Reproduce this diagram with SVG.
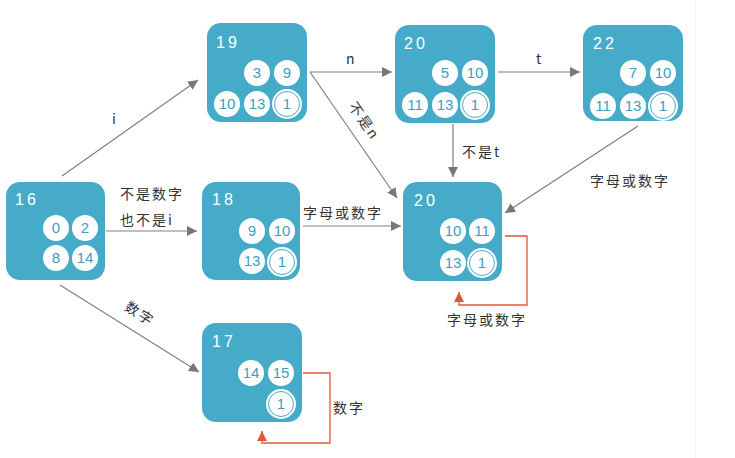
<svg xmlns="http://www.w3.org/2000/svg" width="735" height="458" viewBox="0 0 735 458">
<defs>
<style>
.box{fill:#46abc8}
.c{fill:#fff}
.ring{fill:none;stroke:#46abc8;stroke-width:1}
.t{font-family:"Liberation Sans","DejaVu Sans",sans-serif;font-size:16px;fill:#fff;letter-spacing:3px}
.n{font-family:"Liberation Sans","DejaVu Sans",sans-serif;font-size:15px;fill:#3a9fc2;text-anchor:middle}
.e{stroke:#808080;stroke-width:1.2;fill:none}
.r{stroke:#e0583a;stroke-width:1.3;fill:none}
.l{font-family:"Noto Sans CJK SC","DejaVu Sans",sans-serif;font-size:14px;fill:#333;letter-spacing:2px}
</style>
<marker id="ag" viewBox="0 0 10 10" refX="10" refY="5" markerWidth="10" markerHeight="10" markerUnits="userSpaceOnUse" orient="auto"><path d="M0,0 L10,5 L0,10 Z" fill="#777"/></marker>
<marker id="ar" viewBox="0 0 10 10" refX="10" refY="5" markerWidth="10" markerHeight="10" markerUnits="userSpaceOnUse" orient="auto"><path d="M0,0 L10,5 L0,10 Z" fill="#e0583a"/></marker>
</defs>
<rect width="735" height="458" fill="#fff"/>
<line x1="695.5" y1="0" x2="695.5" y2="458" stroke="#f4f4f4" stroke-width="1"/>

<g id="connectors">
<line class="e" x1="62" y1="176" x2="198" y2="80" marker-end="url(#ag)"/>
<text class="l" x="112" y="124">i</text>
<line class="e" x1="106" y1="231" x2="197" y2="231" marker-end="url(#ag)"/>
<text class="l" x="120" y="199">不是数字</text>
<text class="l" x="120" y="225">也不是i</text>
<line class="e" x1="60" y1="285" x2="199" y2="372" marker-end="url(#ag)"/>
<text class="l" transform="translate(137,318) rotate(33)" text-anchor="middle">数字</text>
<line class="e" x1="310" y1="72" x2="392" y2="72" marker-end="url(#ag)"/>
<text class="l" x="346" y="64">n</text>
<line class="e" x1="310" y1="72" x2="397" y2="198" marker-end="url(#ag)"/>
<text class="l" transform="translate(360,124) rotate(55)" text-anchor="middle">不是n</text>
<line class="e" x1="498" y1="72" x2="580" y2="72" marker-end="url(#ag)"/>
<text class="l" x="536" y="64">t</text>
<line class="e" x1="453" y1="124" x2="453" y2="177" marker-end="url(#ag)"/>
<text class="l" x="462" y="157">不是t</text>
<line class="e" x1="303" y1="226" x2="401" y2="226" marker-end="url(#ag)"/>
<text class="l" x="303" y="218">字母或数字</text>
<line class="e" x1="638" y1="126" x2="505" y2="213" marker-end="url(#ag)"/>
<text class="l" x="590" y="186">字母或数字</text>
<polyline class="r" points="505,236 527,236 527,305 459,305 459,292" marker-end="url(#ar)"/>
<text class="l" x="447" y="325">字母或数字</text>
<polyline class="r" points="303,373 330,373 330,443 262,443 262,431" marker-end="url(#ar)"/>
<text class="l" x="333" y="413">数字</text>
</g>

<g id="node16">
<rect class="box" x="6" y="182" width="99" height="98" rx="14"/>
<text class="t" x="15" y="205">16</text>
<circle class="c" cx="56" cy="228" r="13"/><text class="n" x="56" y="233">0</text>
<circle class="c" cx="85" cy="228" r="13"/><text class="n" x="85" y="233">2</text>
<circle class="c" cx="56" cy="258" r="13"/><text class="n" x="56" y="263">8</text>
<circle class="c" cx="85" cy="258" r="13"/><text class="n" x="85" y="263">14</text>
</g>

<g id="node19">
<rect class="box" x="207" y="23" width="100" height="99" rx="14"/>
<text class="t" x="216" y="48">19</text>
<circle class="c" cx="257" cy="73" r="13"/><text class="n" x="257" y="78">3</text>
<circle class="c" cx="287" cy="73" r="13"/><text class="n" x="287" y="78">9</text>
<circle class="c" cx="227" cy="104" r="13"/><text class="n" x="227" y="109">10</text>
<circle class="c" cx="257" cy="104" r="13"/><text class="n" x="257" y="109">13</text>
<circle class="c" cx="287" cy="104" r="15"/><circle class="ring" cx="287" cy="104" r="12.5"/><text class="n" x="287" y="109">1</text>
</g>

<g id="node20a">
<rect class="box" x="395" y="25" width="100" height="98" rx="14"/>
<text class="t" x="404" y="49">20</text>
<circle class="c" cx="445" cy="73" r="13"/><text class="n" x="445" y="78">5</text>
<circle class="c" cx="475" cy="73" r="13"/><text class="n" x="475" y="78">10</text>
<circle class="c" cx="415" cy="105" r="13"/><text class="n" x="415" y="110">11</text>
<circle class="c" cx="445" cy="105" r="13"/><text class="n" x="445" y="110">13</text>
<circle class="c" cx="475" cy="105" r="15"/><circle class="ring" cx="475" cy="105" r="12.5"/><text class="n" x="475" y="110">1</text>
</g>

<g id="node22">
<rect class="box" x="583" y="25" width="100" height="96" rx="14"/>
<text class="t" x="593" y="49">22</text>
<circle class="c" cx="633" cy="73" r="13"/><text class="n" x="633" y="78">7</text>
<circle class="c" cx="663" cy="73" r="13"/><text class="n" x="663" y="78">10</text>
<circle class="c" cx="603" cy="106" r="13"/><text class="n" x="603" y="111">11</text>
<circle class="c" cx="633" cy="106" r="13"/><text class="n" x="633" y="111">13</text>
<circle class="c" cx="663" cy="106" r="15"/><circle class="ring" cx="663" cy="106" r="12.5"/><text class="n" x="663" y="111">1</text>
</g>

<g id="node18">
<rect class="box" x="202" y="182" width="98" height="98" rx="14"/>
<text class="t" x="212" y="205">18</text>
<circle class="c" cx="252" cy="231" r="13"/><text class="n" x="252" y="236">9</text>
<circle class="c" cx="282" cy="231" r="13"/><text class="n" x="282" y="236">10</text>
<circle class="c" cx="252" cy="261" r="13"/><text class="n" x="252" y="266">13</text>
<circle class="c" cx="282" cy="262" r="15"/><circle class="ring" cx="282" cy="262" r="12.5"/><text class="n" x="282" y="267">1</text>
</g>

<g id="node20b">
<rect class="box" x="403" y="182" width="99" height="99" rx="14"/>
<text class="t" x="414" y="206">20</text>
<circle class="c" cx="453" cy="231" r="13"/><text class="n" x="453" y="236">10</text>
<circle class="c" cx="482" cy="231" r="13"/><text class="n" x="482" y="236">11</text>
<circle class="c" cx="453" cy="263" r="13"/><text class="n" x="453" y="268">13</text>
<circle class="c" cx="482" cy="263" r="15"/><circle class="ring" cx="482" cy="263" r="12.5"/><text class="n" x="482" y="268">1</text>
</g>

<g id="node17">
<rect class="box" x="202" y="323" width="100" height="99" rx="14"/>
<text class="t" x="212" y="347">17</text>
<circle class="c" cx="251" cy="373" r="13"/><text class="n" x="251" y="378">14</text>
<circle class="c" cx="281" cy="373" r="13"/><text class="n" x="281" y="378">15</text>
<circle class="c" cx="281" cy="404" r="15"/><circle class="ring" cx="281" cy="404" r="12.5"/><text class="n" x="281" y="409">1</text>
</g>
</svg>
